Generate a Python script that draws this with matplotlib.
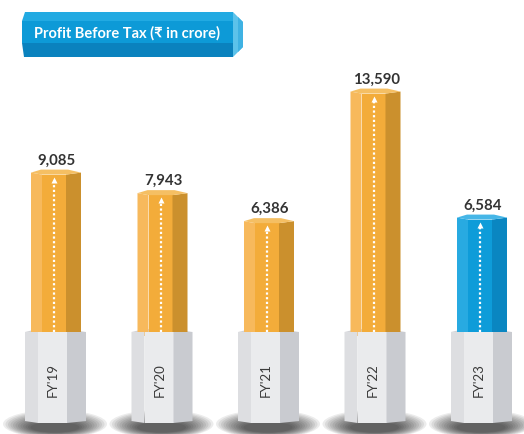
import matplotlib.pyplot as plt
from matplotlib.patches import Polygon, Ellipse

# données (₹ crore)
years = ["FY'19", "FY'20", "FY'21", "FY'22", "FY'23"]
pbt = [9085, 7943, 6386, 13590, 6584]
value_labels = ["9,085", "7,943", "6,386", "13,590", "6,584"]

FONT = ['Lato', 'DejaVu Sans']

orange = ('#F7B95C', '#F3AC3A', '#CB902D', '#F5BF63')
blue = ('#28AAE1', '#0E9CD9', '#0A86C1', '#46B6E7')
grey = ('#DDDEE1', '#EAEBED', '#C9CBD0', '#D2D3D7')

fig = plt.figure(figsize=(5.24, 4.34), dpi=100)
ax = fig.add_axes([0, 0, 1, 1])
XU = 106.5          # pixels par catégorie
YU = 55.6           # valeur par pixel
ax.set_xlim(-56 / XU, (524 - 56) / XU)
ax.set_ylim(-98 * YU, 336 * YU)
ax.axis('off')


def px(i, dx):
    return i + dx / XU


base_top = 4 * YU
base_bot = -87 * YU

for i, (yr, v, lab) in enumerate(zip(years, pbt, value_labels)):
    col = blue if i == len(years) - 1 else orange

    # ombre sous le socle
    for k in range(12):
        ax.add_patch(Ellipse((px(i, -1), base_bot - (1 + 0.3 * k) * YU), (104 - 5 * k) / XU,
                             (28 - 1.6 * k) * YU, color='#000000', alpha=0.075, lw=0, zorder=0))

    # socle gris - dessus
    ax.add_patch(Polygon([(px(i, -31), base_top), (px(i, -18), base_top + 3 * YU),
                          (px(i, 11), base_top + 3 * YU), (px(i, 30), base_top),
                          (px(i, 11), base_top - 2 * YU), (px(i, -18), base_top - 2 * YU)],
                         closed=True, fc=grey[3], ec='none', zorder=1))

    # colonne hexagonale
    edges = [-25, -14, 10, 25]
    for f in range(3):
        top_l = v - (2 * YU if f == 1 else 0)
        top_r = v - (2 * YU if f == 1 else 0)
        if f == 0:
            top_r = v - 2 * YU
        if f == 2:
            top_l = v - 2 * YU
        ax.add_patch(Polygon([(px(i, edges[f]), 0), (px(i, edges[f + 1]), 0),
                              (px(i, edges[f + 1]), top_r), (px(i, edges[f]), top_l)],
                             closed=True, fc=col[f], ec='none', zorder=2))
    ax.add_patch(Polygon([(px(i, -25), v), (px(i, -15), v + 3 * YU), (px(i, 12), v + 3 * YU),
                          (px(i, 25), v), (px(i, 10), v - 2 * YU), (px(i, -14), v - 2 * YU)],
                         closed=True, fc=col[3], ec='none', zorder=2))

    # flèche pointillée
    ax.plot([px(i, -2), px(i, -2)], [base_top, v - 9 * YU], color='white', lw=1.6,
            linestyle=(0, (1, 1.1)), zorder=3)
    ax.plot([px(i, -2)], [v - 7 * YU], marker='^', ms=4.5, color='white', mec='none', zorder=3)

    # socle gris - faces
    bedges = [-31, -18, 11, 30]
    for f in range(3):
        yb_l = base_bot + (2 * YU if f != 1 else 0)
        yb_r = base_bot + (2 * YU if f != 1 else 0)
        if f == 0:
            yb_r = base_bot
        if f == 2:
            yb_l = base_bot
        ax.add_patch(Polygon([(px(i, bedges[f]), yb_l), (px(i, bedges[f + 1]), yb_r),
                              (px(i, bedges[f + 1]), base_top), (px(i, bedges[f]), base_top)],
                             closed=True, fc=grey[f], ec='none', zorder=4))

    ax.text(px(i, -3), -44 * YU, yr, rotation=90, ha='center', va='center',
            fontsize=9.5, color='#3a3a3a', family=FONT, zorder=5)
    ax.text(px(i, 1), v + 12 * YU, lab, ha='center', va='center', fontsize=10.8,
            fontweight='bold', color='#333333', family=FONT, zorder=5)

# bandeau titre
ov = fig.add_axes([0, 0, 1, 1], zorder=6)
ov.set_xlim(0, 524)
ov.set_ylim(434, 0)
ov.axis('off')
ov.patch.set_alpha(0)
ov.add_patch(Polygon([(25, 12), (233, 12), (233, 21), (22, 21)], fc='#22AAE2', ec='none'))
ov.add_patch(Polygon([(22, 21), (233, 21), (233, 43), (22, 43)], fc='#0D9AD7', ec='none'))
ov.add_patch(Polygon([(22, 43), (233, 43), (233, 57), (24, 57)], fc='#0A82BE', ec='none'))
ov.add_patch(Polygon([(233, 12), (243, 22), (243, 47), (233, 57)], fc='#5CC2EA', ec='none'))
ov.add_patch(Polygon([(238, 17), (243, 22), (243, 47), (238, 52)], fc='#3FB2E3', ec='none'))
ov.text(127, 33, 'Profit Before Tax (₹ in crore)', ha='center', va='center', color='white',
        fontsize=10.5, fontweight='bold', family=['Lato', 'Noto Sans', 'DejaVu Sans'])

fig.savefig('out.png', dpi=100)
